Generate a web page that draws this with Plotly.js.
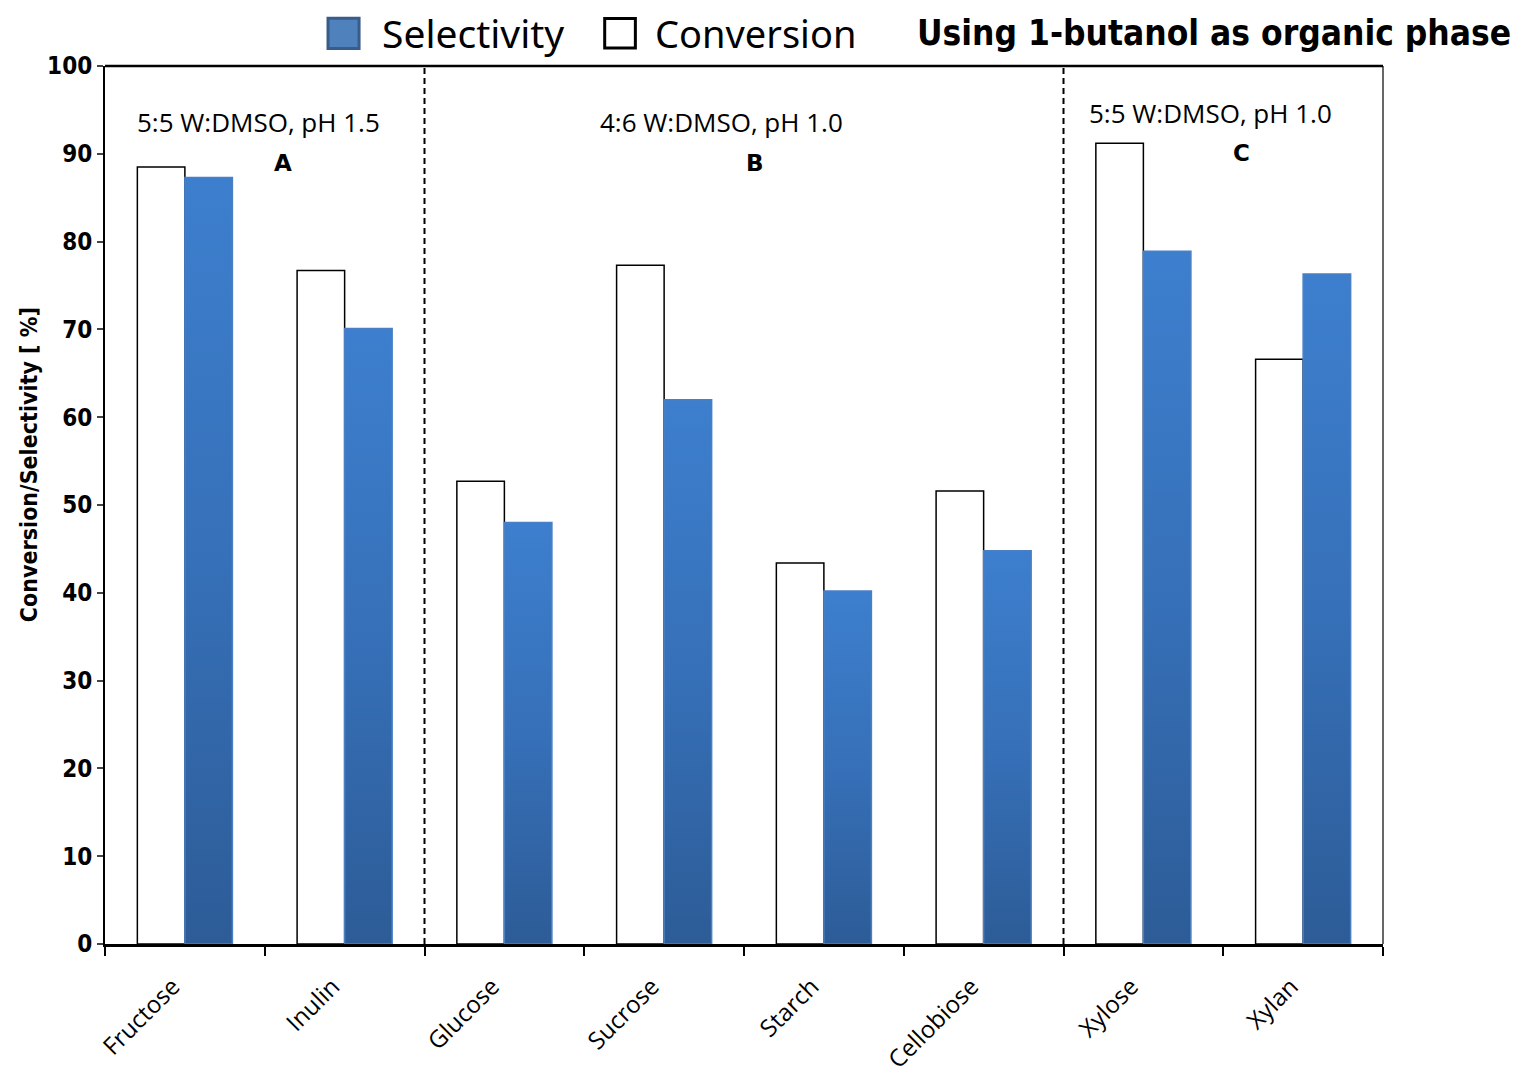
<!DOCTYPE html>
<html>
<head>
<meta charset="utf-8">
<script src="https://cdn.plot.ly/plotly-3.0.1.min.js"></script>
<style>html,body{margin:0;padding:0;background:#fff;}#chart{width:1520px;height:1080px;}</style>
</head>
<body>
<div id="chart"></div>
<script>
// ---- data ----
const categories = ["Fructose", "Inulin", "Glucose", "Sucrose", "Starch", "Cellobiose", "Xylose", "Xylan"];
const conversion = [88.5, 76.7, 52.7, 77.3, 43.4, 51.6, 91.2, 66.6];
const selectivity = [87.3, 70.1, 48.0, 62.0, 40.2, 44.8, 78.9, 76.3];
const seriesNames = ["Conversion", "Selectivity"];
const yTicks = [0, 10, 20, 30, 40, 50, 60, 70, 80, 90, 100];
const groupLabels = ["5:5 W:DMSO, pH 1.5", "4:6 W:DMSO, pH 1.0", "5:5 W:DMSO, pH 1.0"];
const groupLetters = ["A", "B", "C"];
const groupLabelX = [0.458, 3.362, 6.423];
const groupLabelY = [93.6, 93.6, 94.7];
const groupLetterX = [0.614, 3.569, 6.617];
const groupLetterY = [89.0, 89.0, 90.1];
const dividers = [1.5, 5.5];
const headline = "Using 1-butanol as organic phase";
const yTitle = "Conversion/Selectivity [ %]";

const traces = [
  {type: "bar", name: seriesNames[0], x: categories, y: conversion, showlegend: false,
   marker: {color: "#ffffff", line: {color: "#000000", width: 1.5}}},
  {type: "bar", name: seriesNames[1], x: categories, y: selectivity, showlegend: false,
   marker: {color: "#4f81bd", line: {color: "#4a7fc4", width: 1.5}}}
];

const annFont = {family: "Open Sans, Noto Sans, sans-serif", size: 26, color: "#000"};
const letterFont = {family: "DejaVu Sans, sans-serif", size: 23, color: "#000", weight: "bold"};
const annotations = [];
groupLabels.forEach((t, i) => {
  annotations.push({xref: "x", yref: "y", x: groupLabelX[i], y: groupLabelY[i], text: t,
    showarrow: false, font: annFont});
  annotations.push({xref: "x", yref: "y", x: groupLetterX[i], y: groupLetterY[i], text: groupLetters[i],
    showarrow: false, font: letterFont});
});
annotations.push({xref: "paper", yref: "paper", x: 1.102, y: 1.0376, xanchor: "right", yanchor: "middle",
  text: headline, showarrow: false,
  font: {family: "DejaVu Sans Condensed, DejaVu Sans, sans-serif", size: 35, color: "#000", weight: "bold"}});
annotations.push({xref: "paper", yref: "paper", x: -0.0595, y: 0.5465, xanchor: "center", yanchor: "middle",
  text: yTitle, textangle: -90, showarrow: false,
  font: {family: "DejaVu Sans Condensed, DejaVu Sans, sans-serif", size: 23, color: "#000", weight: "bold"}});
// legend texts (legend drawn with shapes + text so the symbols can be large)
const legendFont = {family: "Noto Sans, Open Sans, sans-serif", size: 39, color: "#000"};
annotations.push({xref: "paper", yref: "paper", x: 0.2152, y: 1.0376, xanchor: "left", yanchor: "middle",
  text: seriesNames[1], showarrow: false, font: legendFont});
annotations.push({xref: "paper", yref: "paper", x: 0.4290, y: 1.0376, xanchor: "left", yanchor: "middle",
  text: seriesNames[0], showarrow: false, font: {...legendFont, size: 38}});

const shapes = dividers.map(d => ({type: "line", xref: "x", yref: "paper", x0: d, x1: d, y0: 0, y1: 1,
  line: {color: "#000", width: 2, dash: "6px,4px"}}));
shapes.push({type: "line", xref: "paper", yref: "paper", x0: 0, x1: 1, y0: 1, y1: 1, line: {color: "#000", width: 2.5}});
shapes.push({type: "line", xref: "paper", yref: "paper", x0: 1, x1: 1, y0: 0, y1: 1, line: {color: "#000", width: 1.2}});
// legend symbols
shapes.push({type: "rect", xref: "paper", yref: "paper", x0: 0.1745, x1: 0.1988, y0: 1.0200, y1: 1.0545,
  fillcolor: "#4f81bd", line: {color: "#385d8a", width: 3}});
shapes.push({type: "rect", xref: "paper", yref: "paper", x0: 0.3910, x1: 0.4150, y0: 1.0205, y1: 1.0540,
  fillcolor: "#ffffff", line: {color: "#000000", width: 3}});

const layout = {
  width: 1520, height: 1080,
  margin: {l: 105, r: 137, t: 66, b: 136, pad: 0, autoexpand: false},
  paper_bgcolor: "#fff", plot_bgcolor: "#fff",
  barmode: "group", bargap: 0.405, bargroupgap: 0,
  showlegend: false,
  xaxis: {type: "category", range: [-0.5, 7.5], tickson: "boundaries", ticks: "outside", ticklen: 9, tickwidth: 2,
    tickcolor: "#000", showline: true, linewidth: 3, linecolor: "#000", showgrid: false, zeroline: false,
    tickangle: -45, ticklabelstandoff: 16, ticklabelshift: -12,
    tickfont: {family: "Open Sans, Noto Sans, sans-serif", size: 24, color: "#000"}},
  yaxis: {range: [0, 100], tickvals: yTicks, ticktext: yTicks.map(String), ticks: "outside", ticklen: 6, tickwidth: 2,
    tickcolor: "#444", showline: true, linewidth: 2, linecolor: "#000", showgrid: false, zeroline: false,
    tickfont: {family: "DejaVu Sans Condensed, DejaVu Sans, sans-serif", size: 24, color: "#000", weight: "bold"}},
  annotations: annotations,
  shapes: shapes
};

Plotly.newPlot("chart", traces, layout, {displayModeBar: false, staticPlot: true}).then(gd => {
  const svg = gd.querySelector(".main-svg");
  const ns = "http://www.w3.org/2000/svg";
  let defs = svg.querySelector("defs");
  if (!defs) { defs = document.createElementNS(ns, "defs"); svg.insertBefore(defs, svg.firstChild); }
  const grad = document.createElementNS(ns, "linearGradient");
  grad.setAttribute("id", "selGrad");
  grad.setAttribute("x1", "0"); grad.setAttribute("y1", "0");
  grad.setAttribute("x2", "0"); grad.setAttribute("y2", "1");
  [["0%", "#3d7fce"], ["50%", "#3670b8"], ["100%", "#2d5c97"]].forEach(([o, c]) => {
    const s = document.createElementNS(ns, "stop");
    s.setAttribute("offset", o); s.setAttribute("stop-color", c);
    grad.appendChild(s);
  });
  defs.appendChild(grad);
  const barTraces = gd.querySelectorAll(".barlayer .trace.bars");
  if (barTraces.length > 1) {
    barTraces[1].querySelectorAll("path").forEach(p => { p.style.fill = "url(#selGrad)"; });
  }
});
</script>
</body>
</html>
